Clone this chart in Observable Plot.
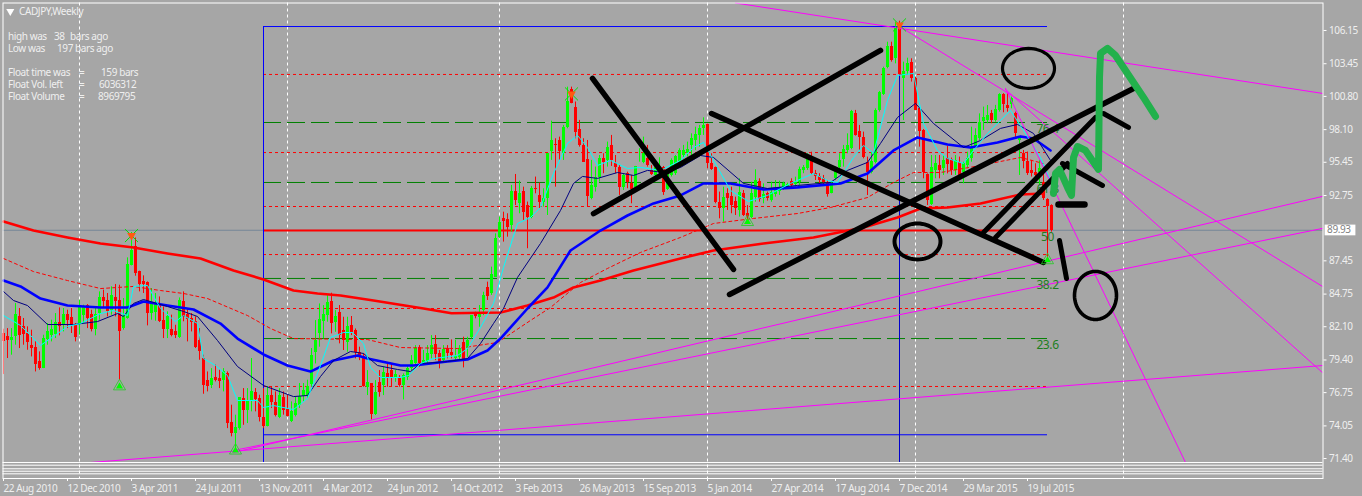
<!DOCTYPE html>
<html><head><meta charset="utf-8">
<script src="https://cdn.jsdelivr.net/npm/d3@7"></script>
<script src="https://cdn.jsdelivr.net/npm/@observablehq/plot@0.6"></script>
<style>html,body{margin:0;padding:0;background:#A6A6A6}svg{display:block}svg text{letter-spacing:-0.4px}</style>
</head><body><div id="chart"></div>
<script>
// weekly bars [open, high, low, close], bar 0 = 22 Aug 2010
const barsA=[[81.55,81.9,78.22,80.87],[81.28,81.95,79.52,81.01],[81.01,81.95,79.79,81.2],[81.28,83.98,80.6,83.09],[82.9,83.58,80.33,81.36],[82.09,82.77,80.6,81.47],[81.55,82.09,80.19,80.82],[80.6,81.82,79.65,80.33],[80.38,80.87,78.43,79.06],[79.3,80.06,78.57,78.7],[78.7,81.41,78.7,81.14],[81.09,82.36,80.6,81.68],[81.36,82.63,80.87,81.87],[81.47,83.17,81.14,82.41],[82.44,83.63,81.36,82.09],[82.22,83.58,81.68,83.12],[83.09,83.44,81.95,82.63],[82.85,83.58,81.55,82.17],[82.17,82.36,80.87,81.2],[82.28,84.25,81.41,83.71],[83.04,83.85,82.36,83.71],[83.79,83.9,81.95,82.77],[83.09,83.44,81.68,81.87],[81.9,83.58,81.36,83.12],[83.17,84.93,82.63,84.47],[84.44,85.07,83.58,84.12],[84.25,84.8,82.9,83.31],[83.39,85.34,83.04,84.66],[84.47,85.53,82.9,84.17],[84.25,85.47,77.76,81.74],[81.95,84.39,81.82,82.9],[82.77,87.69,82.71,87.18],[87.04,89.75,87.04,88.31],[88.6,89.3,86.2,86.42],[86.61,86.61,84.93,85.55],[85.74,86.23,84.8,85.53],[85.66,85.74,82.17,83.17],[83.17,85.2,82.63,83.98],[83.25,84.8,82.55,83.98],[83.85,84.52,82.44,82.55],[82.63,83.71,81.14,81.87],[81.87,83.31,81.14,82.9],[81.87,83.04,81.28,81.41],[81.68,82.22,81.14,81.36],[81.2,84.44,81.14,84.25],[84.17,84.93,82.5,82.82],[83.09,83.58,80.87,82.71],[82.77,83.17,81.68,82.44],[82.5,82.9,80.33,80.38],[81.01,81.95,79.38,80.06]];
const barsB=[[79.52,79.79,76.62,77.35],[77.76,78.43,76.81,77.22],[77.35,78.7,77.08,77.89],[77.95,78.98,77.62,77.76],[77.89,78.57,77.08,77.62],[77.76,78.7,76.81,78.43],[78.3,78.43,73.83,74.24],[74.32,75.73,73.16,73.43],[73.43,74.92,72.21,73.91],[73.83,76.32,73.7,76.32],[76.27,77.08,74.1,75.32],[75.29,77.08,74.24,76],[76,79.52,75.19,76.81],[76.76,77.08,75.19,76.21],[76.27,76.54,74.37,74.73],[74.73,77.08,73.83,73.97],[74.02,77.22,73.97,76.49],[76.54,77.22,75.46,75.94],[75.94,76.81,74.78,74.92],[74.73,77.08,74.64,76.54],[76.35,76.81,74.92,75.32],[75.38,76.54,74.78,74.83],[74.37,76,74.32,75.19],[74.92,76.4,74.78,75.86],[75.67,77.49,75.46,76.4],[76.4,77.49,76,76.95],[76.54,77.76,76.27,77.22],[77.41,80.33,77.22,79.79],[80.03,82.6,79.08,80.98],[81.52,83.95,80.44,82.66],[82.55,83.82,81.11,83.09],[83,84.63,82.47,84.09],[84.17,84.82,81.52,82.38],[82.47,83.41,81.65,82.95],[83.28,83.82,80.71,81.38],[81.79,82.87,80.17,80.98],[80.84,82.87,80.03,82.11],[82.2,82.93,81.38,81.65],[81.79,81.92,79.49,80.03],[80.03,80.44,79.35,79.76],[79.68,79.89,77.19,77.24],[77.19,78.54,76.51,77.59],[77.46,77.46,74.53,74.97],[74.97,77.73,74.89,76.78],[77.59,78.54,76.38,76.78],[77.32,78.81,76.51,78.41],[78.27,79.08,77.19,78],[78.54,79.08,77.19,78],[78,78.54,77.59,78.19],[77.92,78.13,77.19,77.32]];
const barsC=[[77.32,78.27,76.16,78.13],[78,78.95,77.73,78.68],[78.68,79.76,78.54,79.35],[79.08,80.57,78.87,80.3],[80.38,80.57,78.81,79.14],[79.14,80.17,78.95,79.35],[79.3,80.57,79.08,79.89],[79.84,81.38,79.49,80.57],[80.65,81.38,79.35,79.84],[79.89,80.17,78.68,79.22],[79.35,80.57,79.22,80.22],[80.3,80.57,79.49,79.89],[80,81.03,79.49,79.76],[79.49,81,79.35,79.68],[79.57,80.57,79.35,80.3],[80.84,81.25,78.76,79.35],[80.3,81.25,79.62,80.98],[81.19,83,81.11,83],[83.14,83.28,82.74,82.93],[82.82,83.82,82.06,83.14],[83.41,84.9,83,84.6],[85.26,85.72,84.23,84.55],[84.77,86.94,84.64,86.34],[86.12,89.64,86.12,89.29],[89.37,91,89.24,90.59],[90.86,91.4,88.97,90.65],[90.83,91.27,89.37,90.18],[90.32,93.57,89.78,93.11],[93.11,94.46,91.94,92.35],[92.08,93.92,91.27,92.89],[93.08,93.43,90.73,91.4],[91.94,92.22,88.43,90.94],[91,93.49,90.86,93.3],[93.35,94.25,92.89,93.24],[92.76,93.76,91.67,92.22],[92.22,93.3,91.81,92.54],[92.49,96.14,91.13,96.14],[96.36,98.79,95.6,97.22],[96.9,97.36,93.43,96.82],[97.22,97.49,95.6,96.36],[96.19,98.44,95.6,98.25],[98.31,101.55,98.17,100.42],[101.34,101.55,100.2,100.26],[99.88,100.34,97.36,97.9],[98.09,98.85,96.68,96.82],[96.82,97.36,95.46,95.46],[95.65,97.22,91.81,92.68],[92.49,95.6,92.4,93.57],[93.43,95.06,93.03,94.19],[94.25,96,93.84,95.73]];
const barsD=[[95.79,96.14,94.52,95.46],[95.6,97.09,95.06,96.63],[96.82,97.63,95.11,95.6],[95.33,96,94.52,95.06],[95,95.19,92.76,93.38],[93.38,94.52,93.16,94.38],[94.52,94.65,93.3,93.84],[93.76,94.38,92.08,93.22],[93.43,95.11,93.16,95.11],[95.6,96.55,95.46,95.62],[95.46,97.49,95.33,96.14],[95.73,96.82,95.06,95.19],[94.79,95.19,94.38,94.46],[94.38,95.6,94.25,95.06],[94.79,95.82,94.11,95.06],[95.06,95.11,92.76,93.03],[93.22,94.79,93.16,94.52],[94.38,95.73,94.25,95.6],[94.52,96,94.38,95.92],[95.33,96.55,95.19,96.41],[96,96.82,95.73,96.41],[96.19,97.09,95.87,96.46],[96.82,97.76,96,97.36],[97.22,98.3,96.41,97.71],[97.63,98.44,96.68,98.17],[98.17,99.06,97.63,98.44],[98.52,98.57,94.92,95.38],[95.33,96.14,94.79,94.84],[95,95.06,92.08,92.21],[92.21,93.03,90.86,91.67],[91.67,93.43,90.59,92.57],[92.89,93.3,91.54,92.49],[92.67,93.43,91.27,91.94],[92.3,92.62,91.13,91.67],[91.54,94.11,91,93.03],[92.94,93.16,91.05,91.13],[91.27,91.94,90.46,91.05],[91,93.84,90.86,92.89],[92.62,94.84,92.21,93.97],[93.92,94.11,92.21,92.4],[92.49,93.7,92.08,92.81],[92.89,93.03,92.3,92.49],[92.35,93.84,92.21,93.03],[92.84,93.97,92.62,93.16],[93.11,93.92,92.76,93.43],[93.3,93.84,93.16,93.7],[93.49,93.76,93.3,93.62],[93.86,94.11,93.43,93.57],[93.65,94.24,93.43,93.84],[93.84,95.06,93.57,94.84]];
const barsE=[[94.79,95.19,94.52,95.06],[94.92,96.14,94.79,95.73],[95.73,96.27,94.38,94.52],[94.52,94.79,93.97,94.33],[94.33,94.52,93.7,93.97],[94.11,94.38,93.57,93.84],[93.78,93.97,92.62,92.84],[92.94,93.84,92.89,93.65],[94.11,95.06,93.97,94.79],[95.06,96.14,94.79,95.6],[95.65,96.82,95.06,96.46],[96.41,97.76,96.14,96.82],[96.6,99.66,96.46,99.6],[99.44,99.66,97.57,97.63],[97.98,98.44,96.41,97.49],[97.49,97.9,95.73,95.87],[95.46,95.87,92.75,94.59],[94.65,96.27,94.51,95.54],[95.46,99.79,95.32,99.66],[99.66,101.2,99.52,101.09],[100.93,103.17,100.87,103.04],[103.17,105.2,103.04,104.85],[104.85,105.2,103.58,103.72],[103.85,106.83,103.44,106.42],[106.56,106.9,102.5,102.55],[102.28,103.58,98.84,102.85],[102.82,103.9,102.5,103.5],[103.58,103.85,101.96,102.23],[102.23,102.36,99.66,99.66],[99.79,99.85,96.68,97.95],[98.03,98.11,94.11,94.65],[94.46,94.51,91.94,92.35],[92,96,91.94,95],[94.78,96,94.11,95.32],[95.19,96,94.11,94.78],[94.92,96,94.38,95.59],[95.73,96.76,94.51,95.27],[95.68,95.79,94.38,94.78],[94.78,96,94.38,95.59],[95.41,95.87,94.24,94.38],[94.65,95.46,93.7,95.32],[95.19,96.27,94.92,95.73],[95.73,98.3,95.46,96.68],[96.68,98.17,96.54,97.62],[97.35,99.38,97.22,98.65],[98.76,99.93,98.03,99.11],[98.84,100.06,98.57,99.25],[99.39,99.66,98.58,98.85],[98.85,100.07,98.71,99.74],[99.66,101.02,99.52,100.96],[100.96,101.02,99.47,100.12],[100.07,101.09,99.52,99.85],[100.12,100.74,99.79,100.61],[99.39,99.52,97.3,97.77],[97.22,97.5,94.38,97.49],[96.14,96.41,94.92,95.52],[95.52,96.28,94.38,94.52],[94.79,95.6,94.25,94.52],[94.65,95.33,93.84,94.38],[94.65,95.6,93.57,94.92],[93.84,94.79,92.35,92.49],[92.43,92.49,87.75,91.89],[91.94,92,89.78,89.93]];

// moving averages [bar, price]
const maRedSlow=[[0,90.64],[7.5,89.91],[16,89.35],[24.25,88.86],[32.5,88.53],[41,88.05],[49.25,87.64],[57.5,86.67],[65,85.94],[72.5,85.04],[78.5,84.8],[84.25,84.64],[92.5,84.23],[105,83.58],[112,83.2],[124.25,83.25],[131,83.82],[137.5,84.47],[142.5,85.29],[149.25,85.85],[157.5,86.67],[169.25,87.64],[177.5,88.29],[190,88.86],[202.5,89.35],[215,90.16],[223.5,90.97],[229.25,91.7],[236,91.78],[244.25,92.11],[254.25,92.84],[260,92.92]];
const maRedDotted=[[0,87.64],[7.5,86.58],[16,85.85],[24.25,85.2],[32.5,85.37],[39.25,85.04],[45,84.8],[51,84.39],[61,83.01],[66.75,81.96],[72.5,81.14],[91,81.06],[99.25,80.41],[113.5,80.33],[123.5,80.82],[131.75,82.61],[136.75,83.66],[144.25,85.69],[151,86.83],[159.25,88.13],[169.25,89.35],[177.5,90.48],[187.5,90.89],[198.5,91.29],[206.75,91.78],[216,92.59],[222.5,93.81],[227.5,94.62],[234.25,94.62],[244.25,95.19],[254.25,95.84],[260,95.35]];
const maBlue=[[0,85.85],[4.25,85.37],[9.25,84.39],[16,83.82],[24.25,83.66],[31,83.66],[35,84.15],[41,83.82],[47.5,83.5],[54.25,82.36],[58.5,81.14],[65,79.85],[71,78.95],[76.75,78.46],[82.5,79.36],[88.5,79.76],[91,79.52],[99.25,78.95],[102.5,78.95],[111,79.28],[116,79.44],[121,80.17],[124.25,81.14],[131,83.58],[136,85.29],[141.75,88.29],[149.25,89.91],[156,91.13],[162.5,92.11],[169.25,92.76],[175,93.73],[181.75,93.73],[190,93.24],[198.5,93.41],[209.25,93.73],[216,94.54],[222.5,96.41],[228.5,97.47],[236,96.9],[241.75,96.65],[248.5,97.06],[254.25,97.55],[257.5,97.38],[261.75,96.41]];
const maNavy=[[0,84.96],[2.5,84.23],[6,83.82],[11,82.28],[17.5,82.28],[23.5,82.52],[28.5,83.17],[30,82.93],[32.5,83.99],[35,84.31],[41,83.74],[45,83.34],[48.5,82.93],[53.5,80.98],[58.5,78.87],[65,77.33],[72.5,76.43],[76,76.52],[79.25,78.06],[82.5,79.36],[86.75,80.09],[90,79.93],[93.5,78.95],[98.5,78.63],[101.75,78.46],[104.25,79.11],[111,79.28],[116,79.52],[119.25,80.74],[122.5,82.36],[125,83.58],[128.5,86.1],[134.25,88.86],[139.25,91.54],[142.5,93.73],[144.75,94.3],[148.5,94.14],[153.5,94.62],[157.5,94.38],[161,94.79],[165,94.62],[169.25,95.03],[174.25,96],[177.5,95.84],[185,93.73],[191,93.32],[198.5,93.57],[206.75,93.81],[211,94.79],[216,95.44],[219.25,96.98],[223.5,99.09],[228,100.23],[232.5,98.6],[240,96.65],[244.25,97.22],[249.25,98.2],[253.5,98.52],[257.5,97.79],[261.75,95.6]];
const maCyan=[[0,83.01],[4.25,82.2],[9.25,80.58],[12.5,81.31],[16,82.12],[19.25,82.36],[24.25,83.17],[27.5,83.42],[31,83.01],[32.5,85.37],[36,85.45],[39.25,83.58],[43,82.52],[45,83.01],[48.5,82.36],[50,79.52],[53,78.95],[56,78.14],[58.5,76.11],[63.5,76.11],[65,75.54],[67.5,75.7],[72.5,75.38],[76,76.27],[79.25,78.95],[81.75,81.23],[85,81.63],[87.25,81.63],[90,80.74],[91.75,78.79],[94.25,77.98],[99.25,77.98],[101.25,78.14],[104.25,79.11],[107.5,79.52],[113.5,79.76],[116,80.33],[119.25,82.04],[122.5,83.99],[125,86.91],[128.5,90.48],[131.75,90.97],[134.25,91.78],[137.5,94.54],[141,96.98],[143.5,97.63],[146,96.65],[148.5,95.19],[151.75,95.6],[156,94.95],[159.25,95.03],[164.25,94.79],[169.25,95.6],[172.5,96.65],[175,97.06],[178.5,95.03],[181.75,93.16],[186.25,92.27],[191,92.76],[196.75,93.73],[202.5,94.54],[206,93.97],[208.5,93.81],[212.5,95.84],[215,96.82],[217.5,96.17],[221,100.47],[223.5,102.5],[227.5,102.66],[230,98.6],[233.5,96.41],[236,95.76],[240,95.35],[242.5,96.41],[246,97.79],[251.75,99.66],[255,98.03],[259.25,95.84],[261.75,93.97]];

// drawn objects: each is [[bar, price],[bar, price]]
const magentaLines=[[[21.75,71.08],[329.75,78.95]],[[57.5,71.89],[329.75,92.68]],[[57.5,72.05],[329.75,90.08]],[[183,108.38],[329.75,101.04]],[[224,106.48],[329.75,85.37]],[[250.5,101.36],[329.75,78.38]],[[250.5,101.44],[295.5,71.08]]];
const blackLines=[[[147.25,102.26],[182.5,86.75]],[[147.5,91.29],[219.25,104.53]],[[177,99.41],[260,87.32]],[[181.5,84.72],[282.5,101.44]],[[245,89.75],[273,99.09]],[[248,89.35],[266,95.35]],[[275,99.41],[281.25,98.28]],[[264.75,95.35],[274.75,93.57]],[[264,89.1],[265.75,86.02]]];
const blackBar=[[263.75,92.03],[270.25,92.03]];
const greenScribble=[[262.5,92.92],[263,94.54],[264,94.87],[266,93.41],[267,92.76],[267.5,95.84],[268.5,96.73],[270.5,96.41],[273.75,94.87],[274,102.34],[274.25,104.29],[276,104.69],[278,104.12],[281,102.66],[285,100.71],[288,99.17]];
const ellipses=[{bar:256.25,price:103.07,rx:6.5,ry:1.62,w:3.2},{bar:228.5,price:89.02,rx:5.75,ry:1.46,w:4},{bar:273,price:84.64,rx:5.25,ry:1.95,w:3.6}];

// Fibonacci box
const boxFrom=65, boxTo=261, peakBar=224;
const boxHigh=106.47, boxLow=73.33;
const fibGreen=[98.68,93.81,86.02,81.14];
const fibRed=[102.58,96.24,91.86,87.96,83.58,77.25];
const fibMid=89.91;
const fibLabels=[{t:"76.4",p:98.68},{t:"61.8",p:93.81},{t:"50",p:89.91},{t:"38.2",p:86.02},{t:"23.6",p:81.14}];
const lastPrice=89.93;
const lowMarks=[[29,77.26],[58,72.05],[186,90.6],[261,87.5]];
const highMarks=[[32,89.5],[142,101],[224,106.6]];
const yearBars=[19,71,124,176,228,280];
const subWindowLines=[71.08,70.86,70.57,70.37,70.16];

const priceTicks=[106.15,103.45,100.80,98.10,95.45,92.75,87.45,84.75,82.10,79.40,76.75,74.05,71.40];
const dateBars=[0,16,32,48,64,80,96,112,128,144,160,176,192,208,224,240,256];
const dateLabels=["22 Aug 2010","12 Dec 2010","3 Apr 2011","24 Jul 2011","13 Nov 2011","4 Mar 2012","24 Jun 2012","14 Oct 2012","3 Feb 2013","26 May 2013","15 Sep 2013","5 Jan 2014","27 Apr 2014","17 Aug 2014","7 Dec 2014","29 Mar 2015","19 Jul 2015"];

const infoRows=[
 {y:36,parts:[["high was",7],["38",53],["bars ago",69]]},
 {y:48,parts:[["Low was",7],["197",56],["bars ago",74]]},
 {y:72,parts:[["Float time was",7],["=",78],["159 bars",100]]},
 {y:84,parts:[["Float Vol. left",7],["=",78],["6036312",98]]},
 {y:96,parts:[["Float Volume",7],["=",78],["8969795",97]]}];
const infoTexts=infoRows.flatMap(r=>r.parts.map(([t,x])=>({t,x,y:r.y}))).concat([{t:"CADJPY,Weekly",x:18,y:11}]);

const FONT="'Noto Sans', sans-serif", TXT="#EFEFEF";
const candles=[...barsA,...barsB,...barsC,...barsD,...barsE].map(([o,h,l,c],i)=>({i,o,h,l,c,up:c>=o}));
const ellipsePts=e=>d3.range(0,61).map(k=>[e.bar+e.rx*Math.cos(k/60*2*Math.PI),e.price+e.ry*Math.sin(k/60*2*Math.PI)]);
const ln=(pts,o)=>Plot.line(pts,{x:d=>d[0],y:d=>d[1],...o});
const chart=Plot.plot({
 width:1362,height:496,
 marginLeft:2.5,marginRight:39.5,marginTop:2.5,marginBottom:18,
 style:{background:"#A6A6A6",fontFamily:FONT,overflow:"visible"},
 x:{type:"linear",domain:[-0.125,329.875],axis:null},
 y:{type:"linear",domain:[69.78,108.38],axis:null},
 marks:[
  Plot.axisY({anchor:"right",ticks:priceTicks,tickFormat:d=>d.toFixed(2),tickSize:3,tickPadding:3,stroke:"white",color:TXT,fontSize:10,label:null}),
  Plot.axisX({anchor:"bottom",ticks:dateBars,tickFormat:d=>dateLabels[dateBars.indexOf(d)],tickSize:3,tickPadding:3,stroke:"white",color:TXT,fontSize:10,textAnchor:"start",label:null}),
  Plot.ruleX(yearBars,{stroke:"white",strokeDasharray:"3,3",strokeWidth:1}),
  Plot.ruleY([lastPrice],{stroke:"#778899",strokeWidth:1}),
  Plot.ruleY(fibGreen,{x1:boxFrom,x2:boxTo,stroke:"#008000",strokeDasharray:"18,6",strokeWidth:1}),
  Plot.ruleY(fibRed,{x1:boxFrom,x2:boxTo,stroke:"#FF0000",strokeDasharray:"3,3",strokeWidth:1}),
  Plot.ruleY([fibMid],{x1:boxFrom,x2:boxTo,stroke:"#FF0000",strokeWidth:2}),
  Plot.ruleY([boxHigh,boxLow],{x1:boxFrom,x2:boxTo,stroke:"#0000FF",strokeWidth:1}),
  Plot.ruleX([boxFrom],{y1:71.08,y2:boxHigh,stroke:"#0000FF",strokeWidth:1}),
  Plot.ruleX([peakBar],{y1:71.08,y2:boxHigh,stroke:"#0000CC",strokeWidth:1}),
  Plot.ruleX(candles,{x:"i",y1:"l",y2:"h",stroke:d=>d.up?"#00FF00":"#FF0000",strokeWidth:1}),
  Plot.rect(candles,{x1:d=>d.i-0.375,x2:d=>d.i+0.375,y1:"o",y2:"c",fill:d=>d.up?"#00FF00":"#FF0000",shapeRendering:"crispEdges"}),
  ln(maRedDotted,{stroke:"#FF0000",strokeWidth:1,strokeDasharray:"3,3"}),
  ln(maRedSlow,{stroke:"#FF0000",strokeWidth:2.6}),
  ln(maBlue,{stroke:"#0000FF",strokeWidth:2.6}),
  ln(maNavy,{stroke:"#000080",strokeWidth:1}),
  ln(maCyan,{stroke:"#00FFFF",strokeWidth:1}),
  ...magentaLines.map(s=>ln(s,{stroke:"#FF00FF",strokeWidth:1})),
  Plot.text(fibLabels,{x:boxTo,y:"p",text:"t",dy:7,fill:"#1E7F1E",fontSize:12}),
  ...blackLines.map((s,k)=>ln(s,{stroke:"#000000",strokeWidth:k<4?5.5:5,strokeLinecap:"round"})),
  ln(blackBar,{stroke:"#000000",strokeWidth:6.5,strokeLinecap:"round"}),
  ...ellipses.map(e=>ln(ellipsePts(e),{stroke:"#000000",strokeWidth:e.w})),
  ln(greenScribble,{stroke:"#22B14C",strokeWidth:7,strokeLinecap:"round",strokeLinejoin:"round"}),
  Plot.dot(lowMarks,{x:d=>d[0],y:d=>d[1],symbol:"triangle",r:4.5,fill:"none",stroke:"#22CC22",strokeWidth:0.8}),
  Plot.dot(lowMarks,{x:d=>d[0],y:d=>d[1],symbol:"triangle",r:2.6,fill:"#00FF00"}),
  Plot.dot(highMarks,{x:d=>d[0],y:d=>d[1],symbol:"times",r:6,stroke:"#00E000",strokeWidth:1}),
  Plot.dot(highMarks,{x:d=>d[0],y:d=>d[1],symbol:"triangle",rotate:180,r:3.2,fill:"#FF5A10"}),
  Plot.ruleY(subWindowLines,{stroke:"white",strokeWidth:1}),
  Plot.frame({stroke:"white",strokeWidth:1}),
  Plot.rect([lastPrice],{x1:330.4,x2:338.1,y1:d=>d-0.45,y2:d=>d+0.42,fill:"white"}),
  Plot.text([lastPrice],{x:330.9,y:d=>d,text:d=>d.toFixed(2),textAnchor:"start",fill:"#808080",fontSize:10}),
  Plot.text(infoTexts,{text:"t",fill:TXT,fontSize:10,textAnchor:"start",lineAnchor:"middle",
    x:d=>(d.x-2.5)/4,y:d=>108.38-(d.y-2.5)/12.317}),
  Plot.dot([[1.7,107.7]],{x:d=>d[0],y:d=>d[1],symbol:"triangle",rotate:180,r:3,fill:"white"})
 ]
});
document.getElementById("chart").append(chart);
</script></body></html>
